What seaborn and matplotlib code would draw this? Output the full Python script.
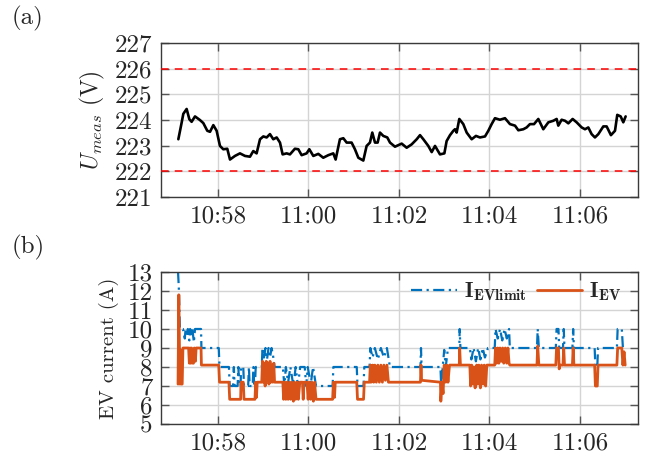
import matplotlib
matplotlib.use("Agg")
import matplotlib.pyplot as plt
import seaborn as sns
import pandas as pd

# ---------------- data (time in seconds after 10:57:00) ----------------
u_time = [7.4, 11.8, 14, 18.4, 22, 25, 29.5, 36, 40.5, 45.8,
          49.4, 53.8, 58.2, 62.6, 67, 72.3, 75.9, 82.5, 89.1, 95.8,
          102.4, 106.8, 111.2, 115.7, 120.1, 124.5, 128.9, 133.3, 137.8, 142.2,
          145.7, 151, 155.4, 162, 166.5, 170.9, 177.5, 181.1, 186.4, 193,
          199.6, 206.3, 212.9, 216, 221.7, 226.2, 230.6, 237.2, 241.6, 246.1,
          252.7, 257.1, 261.5, 264.6, 268.2, 271.7, 274.8, 279.2, 284.5,
          288.1, 294.7, 303.6, 310.2, 316.8, 323.5, 327.9, 332.3, 338.9, 343.4,
          347.8, 354.4, 360.2, 363.2, 367.7, 372.1, 374.3, 376.5, 380, 385.3,
          389.8, 396.4, 402.1, 407.4, 414.1, 418.5, 422.9, 427.3, 433.9, 440.6,
          447.2, 453.9, 458.3, 464.9, 469.3, 473.7, 479.1, 484.8, 491.4, 498.1,
          504.7, 509.1, 511.3, 515.7, 520.2, 524.6, 530.3, 535.6, 542.3, 546.7,
          551.1, 555.5, 559.9, 564.4, 571, 575.4, 581.1, 586.5, 589.5, 594,
          597.5, 600.6]
u_meas = [223.25, 223.9, 224.24, 224.43, 224.03, 223.93, 224.14, 224.0, 223.88, 223.58,
          223.54, 223.8, 223.58, 222.99, 222.86, 222.88, 222.46, 222.6, 222.7, 222.6,
          222.57, 222.79, 222.7, 223.25, 223.36, 223.32, 223.45, 223.25, 223.32, 223.12,
          222.66, 222.7, 222.66, 222.88, 222.86, 222.63, 222.7, 222.86, 222.6, 222.68,
          222.53, 222.63, 222.7, 222.46, 223.25, 223.29, 223.12, 223.12, 222.86, 222.53,
          222.42, 222.99, 223.12, 223.51, 223.12, 223.12, 223.51, 223.38, 223.32,
          223.12, 222.96, 223.08, 222.92, 223.05, 223.25, 223.41, 223.25, 222.99, 222.75,
          222.99, 222.66, 222.7, 223.18, 223.41, 223.58, 223.64, 223.51, 224.04, 223.84,
          223.51, 223.25, 223.38, 223.32, 223.36, 223.58, 223.84, 224.07, 224.01, 224.07,
          223.84, 223.78, 223.6, 223.64, 223.71, 223.84, 223.84, 224.04, 223.64, 223.91,
          223.97, 224.04, 223.78, 224.01, 223.97, 223.87, 224.04, 223.91, 223.71, 223.64,
          223.71, 223.45, 223.32, 223.45, 223.75, 223.75, 223.41, 223.58, 224.2, 224.14,
          223.91, 224.14]
u_limits = [222, 226]

ev_time = [7, 8, 9.5, 10.5, 11.5, 12.5, 13.5, 21, 22, 23,
           24, 25, 26.5, 27.5, 28.5, 30, 31, 37.5, 38, 61,
           62, 74.5, 75.5, 90, 90.5, 93.5, 94.5, 109, 110, 111,
           112, 118, 119, 120, 121.5, 122.5, 124, 125, 126.5, 127.5,
           129, 130, 131.5, 132.5, 134, 135, 146, 147, 148.5, 150,
           151.5, 153, 155, 156.5, 158, 160, 161.5, 163, 165, 166.5,
           168.5, 172, 173, 174, 178, 179.5, 181, 183, 184.5, 186.5,
           188, 190, 193, 212, 213, 214.5, 215.5, 244, 245, 253,
           254, 261, 262, 263, 265, 266.5, 268, 270, 272, 274,
           276, 278, 280, 282, 284, 286, 288, 328.5, 329.2, 330,
           355, 355.5, 357, 358.5, 360, 362, 363.5, 365, 367, 380,
           380.5, 381.5, 394, 395, 396.5, 398, 399.5, 401, 403, 404.5,
           406, 408, 409.5, 411.5, 413, 415, 416.5, 418, 427, 428,
           429.5, 431, 432.5, 434, 436, 437.5, 439, 441, 443, 444.5,
           446, 447, 483, 484, 485.5, 508, 509, 511.5, 512.5, 513.5,
           517.5, 518.5, 519.5, 530, 531, 532, 559.5, 560.5, 563, 564,
           589, 590, 595.5, 597, 598.5, 600]
ev_current = [7.1, 11.8, 7.1, 8.9, 7.1, 7.1, 9.0, 9.0, 8.2, 9.0,
              8.2, 9.0, 8.2, 8.2, 9.0, 8.3, 9.0, 9.0, 8.1, 8.1,
              7.2, 7.2, 6.3, 6.3, 7.2, 7.2, 6.3, 6.3, 7.2, 6.4,
              7.2, 7.2, 8.3, 7.2, 8.2, 7.0, 8.3, 7.3, 8.2, 7.1,
              8.3, 7.2, 8.1, 7.2, 8.2, 7.2, 7.2, 6.3, 7.2, 6.3,
              7.2, 6.3, 7.2, 6.3, 7.2, 6.2, 7.2, 6.3, 7.2, 6.3,
              7.2, 7.2, 6.3, 7.2, 7.2, 6.3, 7.2, 6.3, 7.2, 6.2,
              7.2, 6.3, 6.3, 6.3, 7.2, 6.4, 7.2, 7.2, 6.3, 6.3,
              7.2, 7.2, 8.1, 7.2, 8.1, 7.2, 8.1, 7.2, 8.1, 7.2,
              8.1, 7.2, 8.1, 7.3, 8.1, 7.2, 7.2, 7.2, 8.1, 7.3,
              7.2, 6.2, 7.2, 6.6, 8.1, 7.2, 8.1, 7.2, 8.1, 8.1,
              9.0, 8.1, 8.1, 7.0, 8.1, 7.1, 8.0, 6.9, 8.1, 7.1,
              8.1, 6.9, 8.1, 7.1, 8.1, 7.0, 8.1, 8.1, 8.1, 9.0,
              8.2, 9.0, 8.2, 9.0, 8.3, 9.0, 8.2, 9.0, 8.2, 9.0,
              8.2, 8.1, 8.1, 9.1, 8.1, 8.1, 9.0, 9.0, 7.9, 8.1,
              8.1, 9.0, 8.1, 8.1, 9.0, 8.1, 8.1, 7.0, 7.0, 8.1,
              8.1, 9.0, 9.0, 8.1, 8.8, 8.1]

lim_time = [7, 8, 9.5, 13.5, 16, 17, 19, 20, 22, 23,
            25, 26, 28, 29.5, 37.5, 38, 61, 62, 74.5, 75.5,
            80, 81, 82, 86, 87, 88, 90, 90.5, 93.5, 94.5,
            100, 101, 102, 106, 107, 108, 109, 110, 118, 119,
            121, 123, 125, 127, 129, 131, 133, 135, 146, 148,
            150, 153, 156, 160, 163, 166, 169, 175, 177, 179,
            183, 186, 190, 193, 212, 213, 244, 245, 253, 254,
            261, 262, 265, 268, 272, 276, 280, 284, 288, 328.5,
            329.2, 330, 355, 356, 358, 360, 362, 365, 380, 380.5,
            381.5, 394, 396, 399, 402, 405, 408, 411, 414, 418,
            427, 428, 431, 434, 437, 440, 443, 446, 447, 483,
            484, 485.5, 508, 509, 511.5, 512.5, 517.5, 518.5, 519.5, 530,
            531, 532, 559.5, 560.5, 563, 564, 589, 590, 595.5, 597,
            600]
ev_limit = [13.0, 12.2, 10.0, 10.0, 9.5, 10.0, 9.6, 10.0, 9.4, 10.0,
            9.6, 10.0, 9.3, 10.0, 10.0, 9.0, 9.0, 8.0, 8.0, 7.0,
            7.0, 8.0, 7.0, 7.0, 8.0, 7.0, 7.0, 8.0, 8.0, 7.0,
            7.0, 8.0, 7.0, 7.0, 8.0, 7.0, 7.0, 8.0, 8.0, 9.0,
            8.5, 9.0, 8.4, 9.0, 8.5, 9.0, 8.6, 8.0, 8.0, 7.0,
            8.0, 7.2, 8.0, 7.0, 8.0, 7.0, 8.0, 8.0, 7.0, 8.0,
            7.1, 8.0, 7.0, 7.0, 7.0, 8.0, 8.0, 7.0, 7.0, 8.0,
            8.0, 9.0, 8.5, 9.0, 8.4, 9.0, 8.5, 9.0, 8.0, 8.0,
            9.0, 8.0, 8.0, 7.0, 8.0, 8.9, 8.0, 9.0, 9.0, 10.0,
            9.0, 9.0, 8.4, 9.0, 8.3, 9.0, 8.4, 9.0, 8.5, 9.0,
            9.0, 10.0, 9.5, 10.0, 9.4, 10.0, 9.5, 10.0, 9.0, 9.0,
            10.0, 9.0, 9.0, 10.0, 10.0, 9.0, 9.0, 10.0, 9.0, 9.0,
            10.0, 9.0, 9.0, 8.0, 8.0, 9.0, 9.0, 10.0, 10.0, 9.0,
            9.0]

x_ticks = [60, 180, 300, 420, 540]
x_labels = ["10:58", "11:00", "11:02", "11:04", "11:06"]
u_ticks = [221, 222, 223, 224, 225, 226, 227]
i_ticks = [5, 6, 7, 8, 9, 10, 11, 12, 13]

assert len(u_time) == len(u_meas)
assert len(ev_time) == len(ev_current)
assert len(lim_time) == len(ev_limit)

df_u = pd.DataFrame({"t": u_time, "u": u_meas})
df_ev = pd.DataFrame({"t": ev_time, "i": ev_current})
df_lim = pd.DataFrame({"t": lim_time, "i": ev_limit})

# ---------------- style ----------------
sns.set_theme(style="whitegrid")
plt.rcParams["font.family"] = ["cmr10", "DejaVu Serif"]
plt.rcParams["mathtext.fontset"] = "cm"
plt.rcParams["axes.formatter.use_mathtext"] = True
plt.rcParams["axes.unicode_minus"] = False

GRID = "#d4d4d4"
SPINE = "#3a3a3a"
BLUE = "#0072BD"
ORANGE = "#D95319"

fig = plt.figure(figsize=(6.51, 4.54), dpi=100)
L, R = 161 / 651, 638 / 651
ax1 = fig.add_axes([L, 1 - 197 / 454, R - L, (197 - 43) / 454])
ax2 = fig.add_axes([L, 1 - 424 / 454, R - L, (424 - 272) / 454])

xlim = (-15.6, 617)

for ax in (ax1, ax2):
    ax.set_facecolor("white")
    ax.grid(True, color=GRID, linewidth=1.0)
    for s in ax.spines.values():
        s.set_color(SPINE)
        s.set_linewidth(1.0)
    ax.tick_params(direction="in", length=6, width=1.0, color="#555555",
                   top=True, right=True, bottom=True, left=True,
                   labelsize=18, pad=6)
    ax.set_xlim(*xlim)
    ax.set_xticks(x_ticks, labels=x_labels)

# ---- (a) voltage ----
sns.lineplot(data=df_u, x="t", y="u", ax=ax1, color="black", linewidth=1.9,
             estimator=None, sort=False)
for lim in u_limits:
    ax1.axhline(lim, color="red", linestyle=(0, (5, 4)), linewidth=1.1, zorder=3)
ax1.set_ylim(221, 227)
ax1.set_yticks(u_ticks, labels=[str(v) for v in u_ticks])
ax1.set_xlabel("")
ax1.set_ylabel(r"$U_{meas}$ (V)", fontsize=17, labelpad=6)

# ---- (b) currents ----
sns.lineplot(data=df_lim, x="t", y="i", ax=ax2, color=BLUE, linewidth=1.6,
             linestyle=(0, (5, 2, 1, 2)), estimator=None, sort=False,
             label=r"$\mathbf{I_{EVlimit}}$")
sns.lineplot(data=df_ev, x="t", y="i", ax=ax2, color=ORANGE, linewidth=2.0,
             estimator=None, sort=False, label=r"$\mathbf{I_{EV}}$")
ax2.set_ylim(5, 13)
ax2.set_yticks(i_ticks, labels=[str(v) for v in i_ticks])
ax2.set_xlabel("")
ax2.set_ylabel("EV current (A)", fontsize=15, labelpad=6)
leg = ax2.legend(loc="center right", bbox_to_anchor=(0.966, 0.872), ncol=2,
                 frameon=False, fontsize=15.5, handlelength=2.1,
                 handletextpad=0.35, columnspacing=0.45, borderpad=0.0,
                 borderaxespad=0.0)

fig.text(12 / 651, 1 - 18 / 454, "(a)", fontsize=18, va="center", ha="left")
fig.text(12 / 651, 1 - 247 / 454, "(b)", fontsize=18, va="center", ha="left")

fig.savefig("out.png", dpi=100)
